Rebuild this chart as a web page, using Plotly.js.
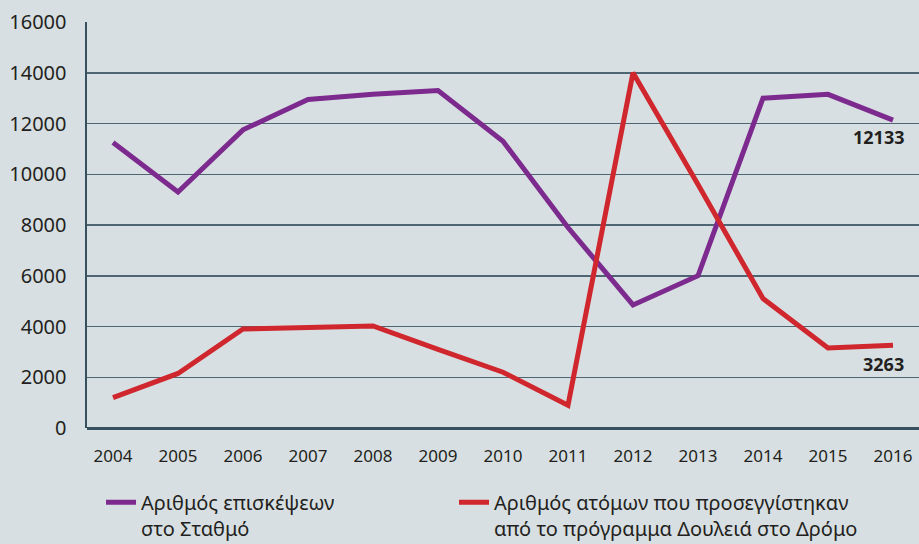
<!DOCTYPE html>
<html>
<head>
<meta charset="utf-8">
<script src="https://cdn.plot.ly/plotly-3.0.1.min.js"></script>
<style>html,body{margin:0;padding:0;background:#d8dfe2;}#chart{width:919px;height:544px;}</style>
</head>
<body>
<div id="chart"></div>
<script>
const years = [2004, 2005, 2006, 2007, 2008, 2009, 2010, 2011, 2012, 2013, 2014, 2015, 2016];
const visits = [11250, 9300, 11750, 12950, 13150, 13300, 11300, 7900, 4850, 6000, 13000, 13150, 12133];
const reached = [1200, 2150, 3900, 3950, 4020, 3100, 2200, 900, 14000, 9600, 5100, 3150, 3263];
const seriesNames = ['Αριθμός επισκέψεων<br>στο Σταθμό', 'Αριθμός ατόμων που προσεγγίστηκαν<br>από το πρόγραμμα Δουλειά στο Δρόμο'];
const yTicks = [0, 2000, 4000, 6000, 8000, 10000, 12000, 14000, 16000];

const traces = [
  {x: years, y: visits, name: seriesNames[0], type: 'scatter', mode: 'lines', legend: 'legend',
   line: {color: '#7d2a8f', width: 5}},
  {x: years, y: reached, name: seriesNames[1], type: 'scatter', mode: 'lines', legend: 'legend2',
   line: {color: '#d0262d', width: 5}}
];

const legendBase = {
  xanchor: 'left', y: -0.135, yanchor: 'top', valign: 'top',
  bgcolor: 'rgba(0,0,0,0)', borderwidth: 0,
  font: {size: 20, color: '#231f20'}
};

const last = years.length - 1;
const layout = {
  width: 919, height: 544,
  paper_bgcolor: '#d8dfe2', plot_bgcolor: '#d8dfe2',
  margin: {l: 87, r: 0, t: 22, b: 116, autoexpand: false},
  font: {family: 'Noto Sans, sans-serif', color: '#231f20'},
  xaxis: {
    range: [2003.6, 2016.4], tickmode: 'array', tickvals: years, ticktext: years.map(String),
    showgrid: false, zeroline: false, showline: false,
    ticks: 'outside', ticklen: 13, tickcolor: 'rgba(0,0,0,0)',
    tickfont: {size: 17, color: '#231f20'}
  },
  yaxis: {
    range: [0, 16000], tickmode: 'array', tickvals: yTicks, ticktext: yTicks.map(String),
    showgrid: true, gridcolor: '#4e6673', gridwidth: 1.5,
    zeroline: true, zerolinecolor: '#36505d', zerolinewidth: 3,
    showline: true, linecolor: '#36505d', linewidth: 2.5,
    ticks: 'outside', ticklen: 14, tickcolor: 'rgba(0,0,0,0)',
    tickfont: {size: 20, color: '#231f20'}
  },
  showlegend: true,
  legend: Object.assign({}, legendBase, {x: 14/832}),
  legend2: Object.assign({}, legendBase, {x: 367/832}),
  annotations: [
    {x: years[last], y: visits[last], xref: 'x', yref: 'y', text: '<b>' + visits[last] + '</b>',
     showarrow: false, xanchor: 'right', yanchor: 'top', xshift: 13, yshift: -3,
     font: {size: 18, color: '#231f20'}},
    {x: years[last], y: reached[last], xref: 'x', yref: 'y', text: '<b>' + reached[last] + '</b>',
     showarrow: false, xanchor: 'right', yanchor: 'top', xshift: 13, yshift: -5,
     font: {size: 18, color: '#231f20'}}
  ]
};

Plotly.newPlot('chart', traces, layout, {displayModeBar: false, staticPlot: true});
</script>
</body>
</html>
